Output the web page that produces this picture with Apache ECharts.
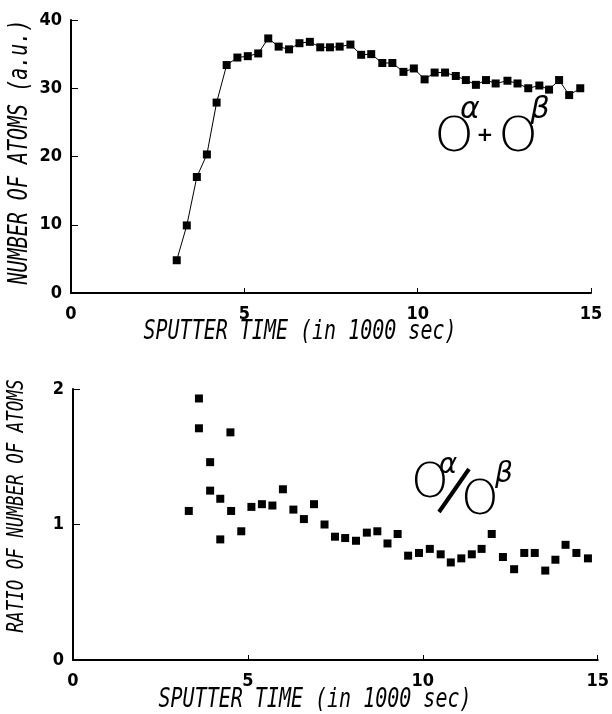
<!DOCTYPE html>
<html>
<head>
<meta charset="utf-8">
<script src="https://cdn.jsdelivr.net/npm/echarts@6/dist/echarts.min.js"></script>
<style>
html,body{margin:0;padding:0;background:#fff;}
#chart{width:612px;height:714px;}
</style>
</head>
<body>
<div id="chart"></div>
<script>
// ---- data ----
var xTicks = [0, 5, 10, 15];
var topYTicks = [0, 10, 20, 30, 40];
var bottomYTicks = [0, 1, 2];

var topTime = [3.05,3.34,3.63,3.92,4.20,4.49,4.80,5.10,5.40,5.69,5.99,6.29,6.59,6.89,7.19,7.47,7.75,8.06,8.37,8.66,8.98,9.27,9.59,9.89,10.20,10.49,10.79,11.10,11.39,11.68,11.97,12.25,12.59,12.88,13.19,13.51,13.79,14.08,14.37,14.69];
var topAtoms = [4.8,9.9,17.0,20.3,27.9,33.4,34.5,34.7,35.1,37.3,36.1,35.7,36.6,36.8,36.0,36.0,36.1,36.4,34.9,35.0,33.7,33.7,32.4,32.9,31.3,32.3,32.3,31.8,31.2,30.5,31.2,30.7,31.1,30.7,30.0,30.4,29.8,31.2,29.0,30.0];

var ratioTime = [3.31,3.60,3.60,3.92,3.92,4.21,4.21,4.50,4.52,4.81,5.10,5.40,5.70,6.00,6.30,6.60,6.89,7.19,7.49,7.78,8.09,8.40,8.70,8.99,9.28,9.58,9.89,10.20,10.51,10.80,11.10,11.40,11.68,11.97,12.29,12.61,12.90,13.20,13.50,13.79,14.08,14.39,14.72];
var ratioValues = [1.10,1.93,1.71,1.46,1.25,1.19,0.89,1.68,1.10,0.95,1.13,1.15,1.14,1.26,1.11,1.04,1.15,1.00,0.91,0.90,0.88,0.94,0.95,0.86,0.93,0.77,0.79,0.82,0.78,0.72,0.75,0.78,0.82,0.93,0.76,0.67,0.79,0.79,0.66,0.74,0.85,0.79,0.75];

var xTitle = 'SPUTTER TIME (in 1000 sec)';
var topYTitle = 'NUMBER OF ATOMS (a.u.)';
var bottomYTitle = 'RATIO OF NUMBER OF ATOMS';

// ---- build ----
function pairs(xs, ys){ return xs.map(function(x,i){ return [x, ys[i]]; }); }

var tickFont = '"DejaVu Sans Condensed","Liberation Sans Narrow","DejaVu Sans",sans-serif';
var titleFont = '"DejaVu Sans Mono","Liberation Mono",monospace';
var glyphFont = '"DejaVu Sans","Liberation Sans",sans-serif';

function xAxisCfg(gridIndex){
  return {
    type:'value', gridIndex:gridIndex, min:0, max:15, interval:5,
    axisLine:{show:true, onZero:false, lineStyle:{color:'#000', width:2}},
    axisTick:{show:true, inside:true, length:5, lineStyle:{color:'#000', width:1}},
    axisLabel:{color:'#000', fontSize:18, fontWeight:'bold', fontFamily:tickFont, margin:12,
      formatter:function(v){ return xTicks.indexOf(v) >= 0 ? String(v) : ''; }},
    splitLine:{show:false}
  };
}
function yAxisCfg(gridIndex, max, interval, ticks){
  return {
    type:'value', gridIndex:gridIndex, min:0, max:max, interval:interval,
    axisLine:{show:true, lineStyle:{color:'#000', width:2}},
    axisTick:{show:true, inside:true, length:7, lineStyle:{color:'#000', width:1}},
    axisLabel:{color:'#000', fontSize:18, fontWeight:'bold', fontFamily:tickFont, margin:9,
      formatter:function(v){ return ticks.indexOf(v) >= 0 ? String(v) : ''; }},
    splitLine:{show:false}
  };
}

function titleText(x, y, text, rot, size){
  return {
    type:'text', x:x, y:y, rotation:rot || 0, scaleY:1.3, silent:true,
    style:{x:0, y:0, text:text, fill:'#000', font:'italic ' + size + 'px ' + titleFont,
      align:'center', verticalAlign:'middle'}
  };
}
function glyph(x, y, text, size, opts){
  opts = opts || {};
  return {
    type:'text', x:x, y:y, scaleX:opts.scaleX || 1, scaleY:opts.scaleY || 1, silent:true,
    style:{x:0, y:0, text:text, fill:'#000',
      font:(opts.style || '') + ' ' + (opts.weight || '200') + ' ' + size + 'px ' + (opts.family || glyphFont),
      align:'center', verticalAlign:'middle'}
  };
}

var chart = echarts.init(document.getElementById('chart'), null, {renderer:'canvas'});
chart.setOption({
  backgroundColor:'#fff',
  animation:false,
  grid:[
    {left:71, right:21, top:20, height:273},
    {left:73, right:12, top:389, height:271}
  ],
  xAxis:[xAxisCfg(0), xAxisCfg(1)],
  yAxis:[yAxisCfg(0, 40, 10, topYTicks), yAxisCfg(1, 2, 1, bottomYTicks)],
  series:[
    {type:'line', xAxisIndex:0, yAxisIndex:0, data:pairs(topTime, topAtoms),
      symbol:'rect', symbolSize:8, showSymbol:true,
      lineStyle:{color:'#000', width:1}, itemStyle:{color:'#000'}},
    {type:'scatter', xAxisIndex:1, yAxisIndex:1, data:pairs(ratioTime, ratioValues),
      symbol:'rect', symbolSize:8, itemStyle:{color:'#000', opacity:1}}
  ],
  graphic:[
    titleText(300, 332, xTitle, 0, 20),
    titleText(315, 700, xTitle, 0, 20),
    titleText(20, 152, topYTitle, Math.PI/2, 20),
    titleText(17, 506, bottomYTitle, Math.PI/2, 17.5),
    // O^alpha + O^beta
    glyph(454, 139, 'O', 48, {scaleX:1.05}),
    glyph(470, 110, 'α', 30, {style:'italic'}),
    glyph(485, 136, '+', 20, {weight:'bold'}),
    glyph(518, 139, 'O', 48, {scaleX:1.05}),
    glyph(540, 110, 'β', 30, {style:'italic'}),
    // O^alpha / O^beta
    glyph(430, 485, 'O', 48, {scaleX:1.0}),
    glyph(448, 466, 'α', 28, {style:'italic'}),
    {type:'line', silent:true, shape:{x1:439, y1:512, x2:469, y2:469},
      style:{stroke:'#000', lineWidth:4}},
    glyph(480, 502, 'O', 48, {scaleX:1.0}),
    glyph(504, 475, 'β', 28, {style:'italic'})
  ]
});
</script>
</body>
</html>
